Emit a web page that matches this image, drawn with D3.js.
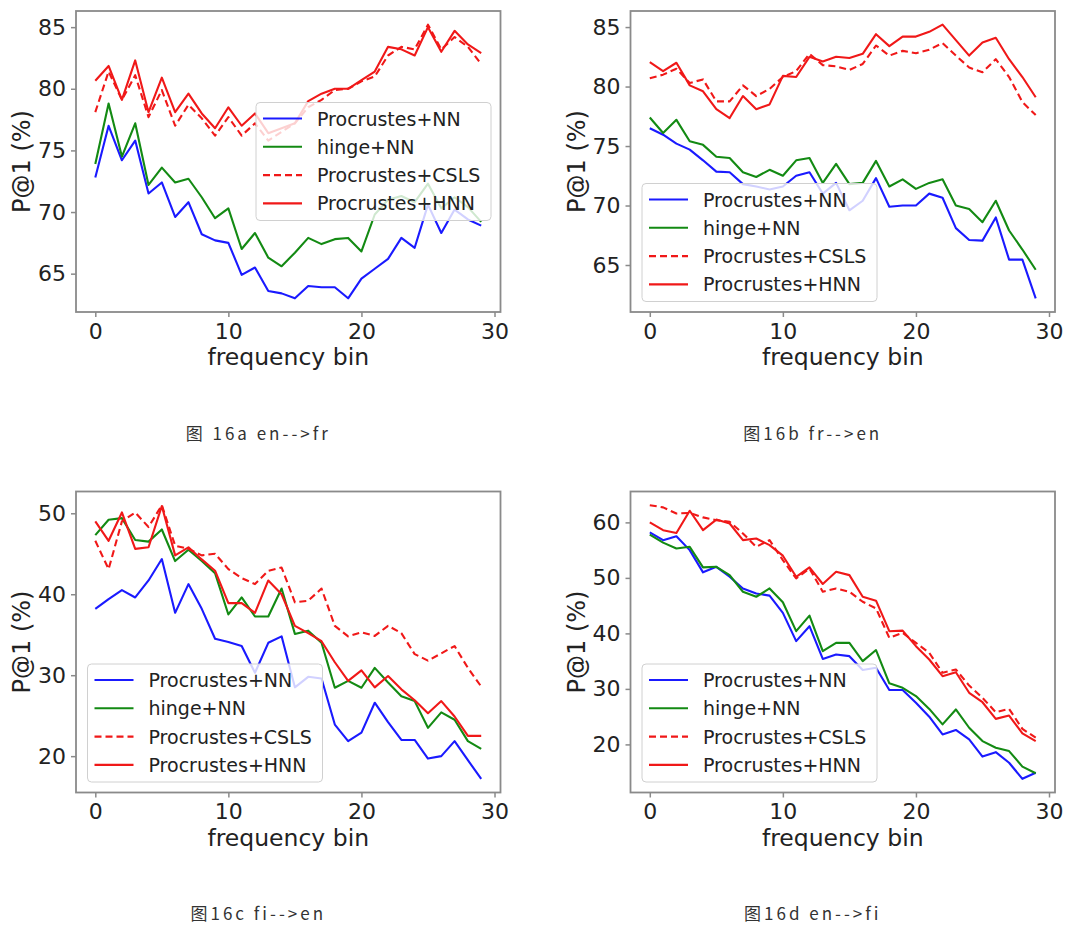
<!DOCTYPE html>
<html>
<head>
<meta charset="utf-8">
<script src="https://cdn.jsdelivr.net/npm/d3@7/dist/d3.min.js"></script>
<style>
  html, body { margin: 0; padding: 0; background: #ffffff; }
  svg { display: block; }
</style>
</head>
<body>
<svg id="chart" width="1080" height="931"></svg>
<script>
// ---------- data ----------
const bins = [0,1,2,3,4,5,6,7,8,9,10,11,12,13,14,15,16,17,18,19,20,21,22,23,24,25,26,27,28,29];
const seriesNames = ["Procrustes+NN", "hinge+NN", "Procrustes+CSLS", "Procrustes+HNN"];
const captions = ["图 16a en-->fr", "图16b fr-->en", "图16c fi-->en", "图16d en-->fi"];
const xTicks = [0, 10, 20, 30];
const yTicksA = [65, 70, 75, 80, 85];
const yTicksB = [65, 70, 75, 80, 85];
const yTicksC = [20, 30, 40, 50];
const yTicksD = [20, 30, 40, 50, 60];

// 16a en-->fr
const aNN    = [72.8,77.0,74.2,75.8,71.5,72.4,69.6,70.8,68.2,67.7,67.5,64.9,65.5,63.6,63.4,63.0,64.0,63.9,63.9,63.0,64.6,65.4,66.2,67.9,67.1,70.6,68.3,70.2,69.4,68.9];
const aHinge = [73.9,78.8,74.5,77.2,72.2,73.6,72.4,72.7,71.2,69.5,70.3,67.0,68.3,66.3,65.6,66.7,67.9,67.4,67.8,67.9,66.8,69.8,71.0,71.3,70.8,72.3,70.3,71.2,70.4,69.2];
const aCSLS  = [78.1,81.4,79.1,81.1,77.7,79.9,77.0,78.7,77.6,76.2,77.7,76.2,77.2,75.8,76.5,77.2,78.5,79.1,79.9,80.0,80.6,81.0,82.7,83.4,83.2,85.2,83.2,84.2,83.4,82.0];
const aHNN   = [80.65,81.85,79.1,82.3,78.1,80.9,78.1,79.6,78.0,76.8,78.5,77.0,78.0,76.4,76.8,77.2,79.0,79.6,80.0,80.0,80.7,81.4,83.4,83.2,82.7,85.0,83.0,84.7,83.6,82.9];

// 16b fr-->en
const bNN    = [76.5,75.95,75.2,74.7,73.8,72.85,72.8,71.8,71.6,71.35,71.6,72.5,72.8,71.0,71.9,69.6,70.4,72.3,69.9,70.0,70.0,71.0,70.65,68.1,67.1,67.05,69.0,65.45,65.45,62.2];
const bHinge = [77.4,76.1,77.2,75.4,75.1,74.1,74.0,72.8,72.4,73.0,72.5,73.8,74.0,71.9,73.5,71.8,71.9,73.75,71.6,72.2,71.4,71.9,72.2,70.0,69.7,68.6,70.4,67.9,66.3,64.6];
const bCSLS  = [80.7,81.0,81.5,80.3,80.6,78.75,78.75,80.1,79.2,79.8,80.8,81.3,82.75,81.8,81.7,81.4,81.9,83.45,82.6,83.0,82.8,83.1,83.65,82.6,81.6,81.2,82.3,80.8,78.7,77.6];
const bHNN   = [82.05,81.3,82.0,80.1,79.6,78.1,77.35,79.2,78.1,78.5,80.9,80.8,82.5,82.1,82.5,82.4,82.75,84.4,83.4,84.2,84.2,84.6,85.2,83.9,82.6,83.7,84.1,82.3,80.8,79.1];

// 16c fi-->en
const cNN    = [38.2,39.4,40.5,39.6,41.7,44.35,37.7,41.25,38.2,34.5,34.1,33.6,30.3,34.0,34.8,28.5,29.8,29.6,23.9,21.85,22.9,26.6,24.2,22.0,22.0,19.7,20.0,21.85,19.5,17.2];
const cHinge = [47.3,49.2,49.4,46.7,46.5,48.0,44.1,45.5,44.1,42.6,37.5,39.6,37.25,37.25,40.7,35.1,35.5,34.0,28.45,29.3,28.45,30.9,29.1,27.4,26.8,23.5,25.4,24.5,21.85,20.9];
const cCSLS  = [46.6,43.1,49.0,50.1,48.3,51.0,46.0,45.6,44.8,45.0,43.1,42.0,41.25,42.9,43.3,39.0,39.2,40.7,36.1,34.8,35.3,34.85,36.1,35.2,32.6,31.8,32.7,33.6,30.9,28.6];
const cHNN   = [49.0,46.6,50.1,45.6,45.8,50.9,44.8,45.8,44.3,42.9,38.9,38.9,37.7,41.7,40.0,36.1,35.2,34.2,31.6,29.3,30.6,28.5,29.9,28.25,26.9,25.3,26.8,24.9,22.5,22.5];

// 16d en-->fi
const dNN    = [58.2,56.8,57.5,55.0,51.0,52.0,50.2,48.1,47.2,46.8,43.7,38.6,41.3,35.4,36.2,35.9,33.4,33.8,29.8,29.8,27.5,25.0,21.8,22.6,20.9,17.8,18.6,16.7,13.8,14.9];
const dHinge = [57.8,56.35,55.3,55.6,51.9,52.0,50.5,47.5,46.6,48.1,45.6,40.4,43.2,36.8,38.3,38.3,35.0,37.0,31.0,30.2,28.7,26.4,23.6,26.3,23.0,20.6,19.4,18.8,16.0,14.8];
const dCSLS  = [63.1,62.7,61.6,61.7,60.9,60.4,60.1,58.0,55.6,56.8,53.2,49.9,51.7,47.5,48.1,47.5,45.7,44.5,39.2,40.1,38.3,36.5,32.9,33.5,30.6,28.4,25.8,26.4,22.8,21.2];
const dHNN   = [60.0,58.6,58.1,62.1,58.6,60.5,59.8,56.8,57.1,55.9,54.0,50.2,51.9,48.9,51.1,50.5,46.6,45.9,40.4,40.5,37.7,35.3,32.3,33.0,29.3,27.6,24.6,25.2,22.0,20.6];

// ---------- styling / layout ----------
const colors = ["#1a1aff", "#138a13", "#f01818", "#f01818"];
const dashes = [null, null, "7,4", null];
const FONT = "'DejaVu Sans', sans-serif";

const panels = [
  { series: [aNN, aHinge, aCSLS, aHNN], yTicks: yTicksA, caption: captions[0], left: 76,  top: 11,  legend: "centerRight" },
  { series: [bNN, bHinge, bCSLS, bHNN], yTicks: yTicksB, caption: captions[1], left: 630.5, top: 11, legend: "lowerLeft" },
  { series: [cNN, cHinge, cCSLS, cHNN], yTicks: yTicksC, caption: captions[2], left: 76,  top: 491.5, legend: "lowerLeft" },
  { series: [dNN, dHinge, dCSLS, dHNN], yTicks: yTicksD, caption: captions[3], left: 630.5, top: 491.5, legend: "lowerLeft" }
];
const W = 424.5, H = 301;

const svg = d3.select("#chart");

panels.forEach((p) => {
  const g = svg.append("g").attr("transform", `translate(${p.left},${p.top})`);
  const xMin = d3.min(bins), xMax = d3.max(bins);
  const xPad = (xMax - xMin) * 0.05;
  const x = d3.scaleLinear().domain([xMin - xPad, xMax + xPad]).range([0, W]);
  const all = p.series.flat();
  const yMin = d3.min(all), yMax = d3.max(all);
  const yPad = (yMax - yMin) * 0.05;
  const y = d3.scaleLinear().domain([yMin - yPad, yMax + yPad]).range([H, 0]);

  // lines
  const line = d3.line().x((d, i) => x(bins[i])).y(d => y(d));
  p.series.forEach((s, k) => {
    g.append("path")
      .datum(s)
      .attr("d", line)
      .attr("fill", "none")
      .attr("stroke", colors[k])
      .attr("stroke-width", 2.1)
      .attr("stroke-linejoin", "round")
      .attr("stroke-dasharray", dashes[k]);
  });

  // frame
  g.append("rect").attr("x", 0).attr("y", 0).attr("width", W).attr("height", H)
    .attr("fill", "none").attr("stroke", "#8a8a8a").attr("stroke-width", 1.8);

  // axes
  const xAxis = d3.axisBottom(x).tickValues(xTicks).tickSize(5).tickPadding(6).tickFormat(d3.format("d"));
  const yAxis = d3.axisLeft(y).tickValues(p.yTicks).tickSize(5).tickPadding(5).tickFormat(d3.format("d"));
  const gx = g.append("g").attr("transform", `translate(0,${H})`).call(xAxis);
  const gy = g.append("g").call(yAxis);
  [gx, gy].forEach(a => {
    a.select(".domain").remove();
    a.selectAll(".tick line").attr("stroke", "#8a8a8a").attr("stroke-width", 1.5);
    a.selectAll(".tick text").attr("fill", "#222").style("font-family", FONT).style("font-size", "22px");
  });

  // axis labels
  g.append("text")
    .attr("x", W / 2).attr("y", 354)
    .attr("text-anchor", "middle")
    .attr("fill", "#222")
    .style("font-family", FONT).style("font-size", "23.5px")
    .text("frequency bin");
  g.append("text")
    .attr("transform", `translate(-54,${H / 2}) rotate(-90)`)
    .attr("text-anchor", "middle")
    .attr("dominant-baseline", "central")
    .attr("fill", "#222")
    .style("font-family", FONT).style("font-size", "24px")
    .text("P@1 (%)");

  // legend
  const LW = 235, LH = 118;
  let lx, ly;
  if (p.legend === "centerRight") { lx = W - 9.5 - LW; ly = H / 2 - LH / 2; }
  else { lx = 11.5; ly = H - 10.5 - LH; }
  const lg = g.append("g").attr("transform", `translate(${lx},${ly})`);
  lg.append("rect").attr("width", LW).attr("height", LH).attr("rx", 4)
    .attr("fill", "#fff").attr("fill-opacity", 0.8)
    .attr("stroke", "#d0d0d0").attr("stroke-width", 1);
  seriesNames.forEach((name, k) => {
    const ry = 16 + k * 28.3;
    lg.append("line").attr("x1", 7).attr("x2", 46).attr("y1", ry).attr("y2", ry)
      .attr("stroke", colors[k]).attr("stroke-width", 2.1)
      .attr("stroke-dasharray", dashes[k]);
    lg.append("text").attr("x", 61).attr("y", ry)
      .attr("dominant-baseline", "central")
      .attr("fill", "#222")
      .style("font-family", FONT).style("font-size", "19px")
      .text(name);
  });

  // caption
  g.append("text")
    .attr("x", W / 2 - 30).attr("y", 428.5)
    .attr("text-anchor", "middle")
    .attr("fill", "#333")
    .style("font-family", "'Noto Sans CJK SC', sans-serif")
    .style("font-size", "17px")
    .style("letter-spacing", "3px")
    .text(p.caption);
});
</script>
</body>
</html>
